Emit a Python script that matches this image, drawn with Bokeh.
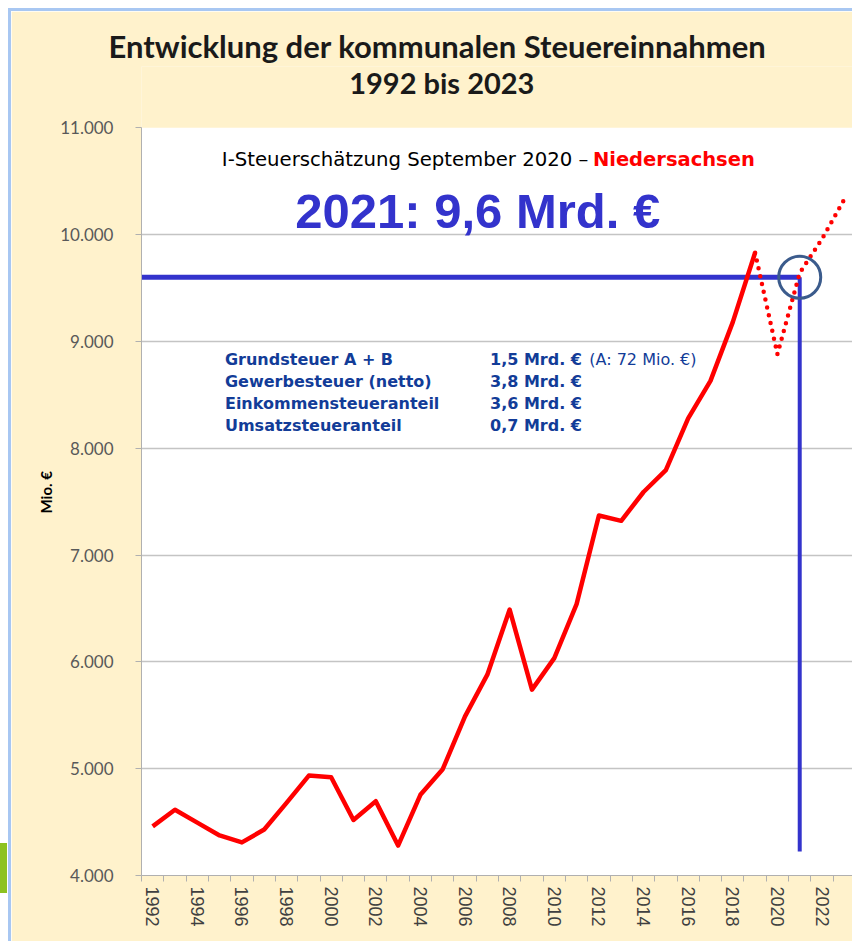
from bokeh.plotting import figure
from bokeh.layouts import column
from bokeh.models import FixedTicker, Label, Range1d, Title
from bokeh.embed import file_html
from bokeh.resources import INLINE

# ---------------- data ----------------
years = [1992, 1993, 1994, 1995, 1996, 1997, 1998, 1999, 2000, 2001,
         2002, 2003, 2004, 2005, 2006, 2007, 2008, 2009, 2010, 2011,
         2012, 2013, 2014, 2015, 2016, 2017, 2018, 2019]
values = [4460, 4615, 4495, 4375, 4310, 4430, 4680, 4935, 4920, 4520,
          4695, 4280, 4755, 4995, 5490, 5880, 6490, 5740, 6035, 6540,
          7370, 7320, 7590, 7795, 8280, 8630, 9180, 9830]
forecast_years = [2019, 2020, 2021, 2022, 2023]
forecast_values = [9830, 8880, 9640, 9960, 10330]

target_year = 2021
target_value = 9600
vline_bottom = 4225

y_ticks = [4000, 5000, 6000, 7000, 8000, 9000, 10000, 11000]
y_tick_labels = ["4.000", "5.000", "6.000", "7.000", "8.000", "9.000", "10.000", "11.000"]
x_ticks = list(range(1992, 2023, 2))

components = ["Grundsteuer A + B", "Gewerbesteuer (netto)",
              "Einkommensteueranteil", "Umsatzsteueranteil"]
amounts = ["1,5 Mrd. €", "3,8 Mrd. €", "3,6 Mrd. €", "0,7 Mrd. €"]
grund_a_note = "(A: 72 Mio. €)"

title1 = "Entwicklung der kommunalen Steuereinnahmen"
title2 = "1992 bis 2023"
y_label = "Mio. €"
header_black = "I-Steuerschätzung September 2020 –"
header_red = "Niedersachsen"
headline = "2021: 9,6 Mrd. €"

# ---------------- figure ----------------
x_start = years[0] - 0.5
x_end = forecast_years[-1] + 0.5
y_min, y_max = y_ticks[0], y_ticks[-1]
# the frame reaches up between the two title lines
y_top = y_max + 61 * (y_max - y_min) / 745

BEIGE = "#FFF2CC"
BLUE = "#3333CC"
DARKBLUE = "#123C98"

p = figure(frame_width=711, frame_height=806,
           x_range=Range1d(x_start, x_end), y_range=Range1d(y_min, y_top),
           output_backend="svg", toolbar_location=None,
           min_border_left=130, min_border_top=55, min_border_right=0, min_border_bottom=69)
p.styles = {"border-top": "3px solid #A8C7F2", "border-left": "3px solid #A8C7F2"}
p.background_fill_color = BEIGE
p.border_fill_color = BEIGE
p.outline_line_color = None

# white plotting area
p.quad(left=[x_start], right=[x_end], bottom=[y_min], top=[y_max],
       fill_color="white", line_color=None, level="image")

# title line 1 (panel above the frame)
p.add_layout(Title(text=title1, align="left", offset=-33, standoff=4,
                   text_font="Lato", text_font_style="bold", text_font_size="31px",
                   text_color="#1A1A1A"), "above")
# y axis title (panel left of the axis)
p.add_layout(Title(text=y_label, align="left", offset=362, standoff=6,
                   text_font="Lato", text_font_style="bold", text_font_size="15px",
                   text_color="black"), "left")

# grid
p.xgrid.visible = False
p.ygrid.ticker = FixedTicker(ticks=y_ticks[1:-1])
p.ygrid.grid_line_color = "#C4C4C4"
p.ygrid.grid_line_width = 1.6

# y axis
p.yaxis.bounds = (y_min, y_max)
p.yaxis.ticker = FixedTicker(ticks=y_ticks)
p.yaxis.major_label_overrides = {t: l for t, l in zip(y_ticks, y_tick_labels)}
p.yaxis.major_label_text_font = "Lato"
p.yaxis.major_label_text_font_size = "17px"
p.yaxis.major_label_text_color = "#595959"
p.yaxis.major_label_standoff = 22
p.yaxis.axis_line_color = "#B0B0B0"
p.yaxis.major_tick_line_color = "#B0B0B0"
p.yaxis.major_tick_out = 6
p.yaxis.major_tick_in = 0
p.yaxis.minor_tick_line_color = None

# x axis
p.xaxis.ticker = FixedTicker(ticks=x_ticks,
                             minor_ticks=[y - 0.5 for y in range(years[0], forecast_years[-1] + 2)])
p.xaxis.major_label_orientation = "vertical"
p.xaxis.major_label_text_font = "Liberation Sans"
p.xaxis.major_label_text_font_size = "18px"
p.xaxis.major_label_text_color = "#404040"
p.xaxis.major_label_standoff = 5
p.xaxis.axis_line_color = "#B0B0B0"
p.xaxis.major_tick_line_color = None
p.xaxis.minor_tick_line_color = "#B0B0B0"
p.xaxis.minor_tick_out = 6
p.xaxis.minor_tick_in = 0

# blue guide lines
p.segment(x0=[x_start], y0=[target_value], x1=[target_year], y1=[target_value],
          line_color=BLUE, line_width=5)
p.segment(x0=[target_year], y0=[target_value], x1=[target_year], y1=[vline_bottom],
          line_color=BLUE, line_width=4)

# data lines
p.line(years, values, line_color="#FF0000", line_width=4.5, line_join="round")
p.line(forecast_years, forecast_values, line_color="#FF0000", line_width=4.5,
       line_dash="0 8", line_cap="round")

# circle marker
p.scatter([target_year], [target_value], size=42, fill_color=None,
          line_color="#3B5B8C", line_width=3)

# ---------------- title line 2 ----------------
p.add_layout(Label(x=2004.96, y=11423, text=title2, text_align="center", text_baseline="middle",
                   text_font="Lato", text_font_style="bold", text_font_size="29px",
                   text_color="#1A1A1A"))

# ---------------- in-plot texts ----------------
p.add_layout(Label(x=2011.53, y=10700, text=header_black, text_align="right", text_baseline="middle",
                   text_font="DejaVu Sans", text_font_size="19.7px", text_color="black"))
p.add_layout(Label(x=2011.73, y=10700, text=header_red, text_align="left", text_baseline="middle",
                   text_font="DejaVu Sans", text_font_style="bold", text_font_size="19.5px",
                   text_color="#FF0000"))
p.add_layout(Label(x=2006.57, y=10220, text=headline, text_align="center", text_baseline="middle",
                   text_font="Liberation Sans", text_font_style="bold", text_font_size="49px",
                   text_color=BLUE))

row_y0 = 8835
row_step = 208
for i, (c, a) in enumerate(zip(components, amounts)):
    yy = row_y0 - i * row_step
    p.add_layout(Label(x=1995.24, y=yy, text=c, text_align="left", text_baseline="middle",
                       text_font="DejaVu Sans", text_font_style="bold", text_font_size="16px",
                       text_color=DARKBLUE))
    p.add_layout(Label(x=2007.12, y=yy, text=a, text_align="left", text_baseline="middle",
                       text_font="DejaVu Sans", text_font_style="bold", text_font_size="16px",
                       text_color=DARKBLUE))
p.add_layout(Label(x=2011.57, y=row_y0, text=grund_a_note, text_align="left", text_baseline="middle",
                   text_font="DejaVu Sans", text_font_size="16px", text_color=DARKBLUE))

page = column(p, styles={
    "background": "linear-gradient(#8DC21F, #8DC21F) no-repeat 0px 843px / 7px 50px, white",
    "padding-top": "8px", "padding-left": "8px"})

open("out.html", "w").write(file_html(page, INLINE))
